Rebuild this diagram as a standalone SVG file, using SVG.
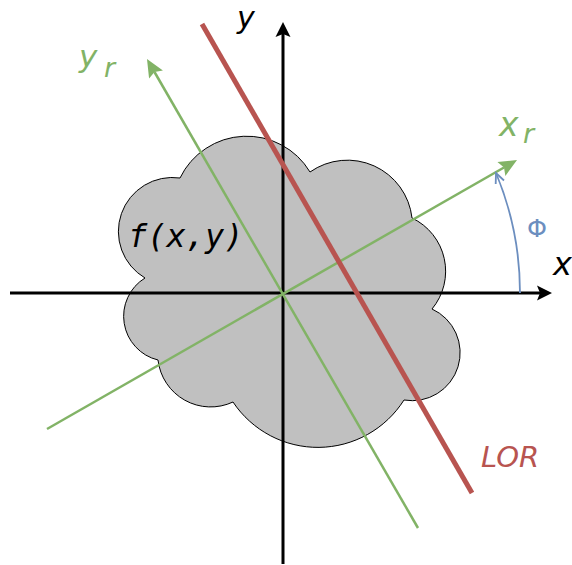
<svg xmlns="http://www.w3.org/2000/svg" width="572" height="565" viewBox="0 0 572 565">
<style>
.mono{font-family:"DejaVu Sans Mono","Liberation Mono",monospace;font-style:italic}
.it{font-family:"DejaVu Sans","Liberation Sans",sans-serif;font-style:italic}
.sans{font-family:"DejaVu Sans","Liberation Sans",sans-serif}
.axis{stroke:#000;stroke-width:3;fill:none}
.rot{stroke:#82b366;stroke-width:2.5;fill:none}
.lor{stroke:#b85450;stroke-width:5;fill:none}
.ang{stroke:#6c8ebf;stroke-width:1.8;fill:none}
</style>
<defs>
<marker id="ak" markerUnits="userSpaceOnUse" markerWidth="20" markerHeight="20" viewBox="0 -10 20 20" refX="3" refY="0" orient="auto" overflow="visible">
<path d="M0,-7.5 L15,0 L0,7.5 L3,0 Z" fill="#000"/>
</marker>
<marker id="ag" markerUnits="userSpaceOnUse" markerWidth="20" markerHeight="20" viewBox="0 -10 20 20" refX="3" refY="0" orient="auto" overflow="visible">
<path d="M0,-8 L18,0 L0,8 L3,0 Z" fill="#82b366"/>
</marker>
<marker id="ab" markerUnits="userSpaceOnUse" markerWidth="20" markerHeight="20" viewBox="-10 -10 20 20" refX="0" refY="0" orient="auto" overflow="visible">
<path d="M-10,-4.5 L0,0 L-10,4.5" fill="none" stroke="#6c8ebf" stroke-width="1.8"/>
</marker>
</defs>
<g id="cloud">
<path d="M180,178 A74,74 0 0 1 310,172 A65,65 0 0 1 412,218 A59,59 0 0 1 432,309 A48,48 0 0 1 404,400 A102,102 0 0 1 233,402 A53,53 0 0 1 158,360 A45,45 0 0 1 145,278 A54,54 0 0 1 180,178 Z" fill="#c0c0c0" stroke="#000" stroke-width="1"/>
<text class="mono" x="128" y="247" font-size="32" fill="#000">f(x,y)</text>
</g>
<g id="connectors">
<path class="axis" d="M10,293 H540" marker-end="url(#ak)"/>
<path class="axis" d="M283,564 V34" marker-end="url(#ak)"/>
<path class="rot" d="M47,429 L504,167.5" marker-end="url(#ag)"/>
<path class="rot" d="M418,528 L154.5,72" marker-end="url(#ag)"/>
<path class="lor" d="M202,24 L472,493"/>
<path class="ang" d="M520,293 A312,312 0 0 0 496,173" marker-end="url(#ab)"/>
</g>
<g id="label-y"><text class="it" x="237" y="28" font-size="30" fill="#000">y</text></g>
<g id="label-x"><text class="it" x="553" y="275" font-size="32" fill="#000">x</text></g>
<g id="label-yr"><text class="it" x="79" y="67" font-size="31" fill="#82b366">y</text><text class="it" x="104" y="77" font-size="27" fill="#82b366">r</text></g>
<g id="label-xr"><text class="it" x="499" y="136" font-size="33" fill="#82b366">x</text><text class="it" x="523" y="143" font-size="27" fill="#82b366">r</text></g>
<g id="label-phi"><text class="sans" x="527" y="237" font-size="24" textLength="20" lengthAdjust="spacingAndGlyphs" fill="#6c8ebf">Φ</text></g>
<g id="label-lor"><text class="it" x="481" y="467" font-size="29" fill="#b85450">LOR</text></g>
</svg>
